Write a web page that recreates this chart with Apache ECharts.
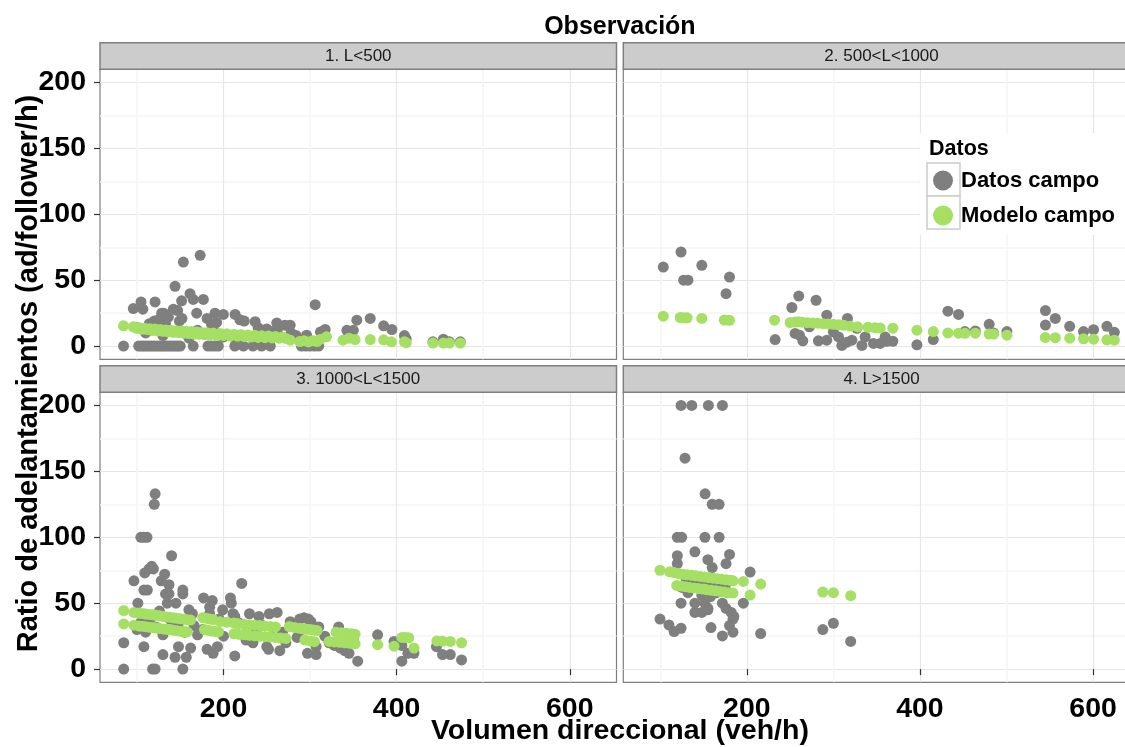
<!DOCTYPE html>
<html><head><meta charset="utf-8">
<script src="https://cdn.jsdelivr.net/npm/echarts@6/dist/echarts.min.js"></script>
<style>html,body{margin:0;padding:0;background:#fff}#c{width:1125px;height:747px}</style>
</head><body><div id="c"></div>
<script>
// ---------- data ----------
const facetLabels = ['1. L<500', '2. 500<L<1000', '3. 1000<L<1500', '4. L>1500'];
const seriesNames = ['Datos campo', 'Modelo campo'];
const legendTitle = 'Datos';
const mainTitle = 'Observación';
const xTitle = 'Volumen direccional (veh/h)';
const yTitle = 'Ratio de adelantamientos (ad/follower/h)';
const xMajorTicks = [200, 400, 600];
const xMinorTicks = [100, 300, 500];
const yMajorTicks = [0, 50, 100, 150, 200];
const yMinorTicks = [25, 75, 125, 175];
const xRange = [57.3, 654];
const yRange = [-10, 210];

const p1Datos = [[84.5,0],[102,0],[105,0],[108,0],[111,0],[114,0],[117,0],[120,0],[123,0],[126,0],[129,0],[132,0],[135,0],[138,0],[141,0],[144,0],[147,0],[150,0],[165,0],[182,0],[186,0],[190,0],[194,0],[213,0],[223,0],[234,0],[244,0],[254,0],[290,0],[295,0],[300,0],[305,0],[310,0],
[95.8,28.5],[104.7,33.5],[106.8,28],[114.3,17],[120.9,33.5],[128.6,25],[131,25],[136.3,22],[120,19],[125,20],[133,17],[142,28],[147,27],[144,45.4],[153.6,63.8],[173,68.9],[151.6,34.4],[161.3,39.8],[165,35.4],[176.7,35.4],[149,19],[152,21],[169,25],[181,21],[186,17],[190.2,25],[188,15],[192,18],[186,12],[199.8,24],[200,7],[210,7.5],[220,6.6],[213.4,24],[219,20],[224,19],[236.5,18.5],[250,13],[256,11],[262,12],[261.5,17.6],[271,15.9],[277,15.9],[278,10],[284,8],[296,8.3],[305.9,31.4],[312,10.8],[317.4,12.6],[342.5,12],[350,12],[354,19.7],[369.5,21],[385,15.4],[394.5,12.6],[409,8],[411,5.5],[441.9,3.3],[454,5.3],[461,3.3],[473.5,3.3],[100,14],[110,10],[130,8],[160,6],[170,12],[240,14]];
const p1Modelo = [[84.5,15.4],[95.8,14.6],[100,13.5],[103,14],[106,12.8],[109,13.6],[112,12.5],[115,13.2],[118,11.8],[121,12.9],[124,11.5],[127,12.6],[130,11.2],[133,12.3],[136,10.8],[139,12],[142,10.5],[145,11.7],[148,10.2],[151,11.5],[154,9.8],[157,11.2],[160,9.5],[163,11],[166,9.2],[169,10.7],[172,9],[175,10.4],[178,8.7],[181,10.2],[184,8.5],[188,9.9],[192,8.2],[196,9.6],[200,8],[204,9.3],[208,7.7],[212,9],[216,7.5],[220,8.8],[224,7.2],[228,8.5],[232,6.9],[236,8.2],[240,6.6],[244,7.9],[248,6.4],[252,7.6],[256,6.2],[260,7.3],[264,6],[268,7],[272,5.8],[277,4.5],[288,3.5],[293,4],[298,3.2],[303,4],[308,3.5],[312,5.3],[319,7.1],[338,4.5],[345,6],[352,5],[369.5,5],[385,4.8],[394,3.3],[409,3.3],[411,2.5],[442,2.3],[454,2.3],[461,2.3],[473.5,2.3]];

const p2Datos = [[103.5,60],[124,71.4],[127,50],[132,50],[148,61.3],[180,52.4],[176,39.8],[232.7,5],[252,29.3],[260,38],[280,34.8],[255.8,9.6],[260.8,8.3],[264.7,4],[272.3,14.6],[282.7,4],[292.4,4.5],[292.4,23.5],[300,10.8],[305.9,7],[309.8,0.5],[315.6,3],[321.4,4.5],[316.3,21],[327.1,13.5],[333,0.5],[336.7,7],[346.3,2],[354,2],[359.8,7],[361.7,3.7],[368.7,3.7],[396.5,1],[415.4,5],[432.3,26.5],[444.6,24],[452,11],[464,11.5],[480,16.5],[485,10],[500.5,11],[545,27],[556.4,21],[545,16],[573,15],[589,11],[600.6,12.5],[616,15],[624.6,10.5]];
const p2Modelo = [[103.5,22.7],[123,21.7],[127,21.6],[131,21.5],[148,21],[174,19.8],[180,19.6],[232,19.7],[250,17.9],[256,18.3],[260,18.4],[264,18.2],[270,17.8],[276,17.6],[282,17.4],[288,17],[294,16.8],[300,16.5],[306,16.2],[312,15.8],[319.4,15.1],[328,14.6],[340,14.3],[348,14],[354,13.8],[368.7,13.6],[396.5,12.1],[415.4,11],[432.3,10],[444.6,9.8],[452,9.7],[464,9.8],[480,9.2],[485,9.2],[500.5,8.3],[544.8,6.6],[556.4,6.4],[573,6],[589,5.6],[600.6,5.3],[616,4.8],[624.6,4.5]];

const p3Datos = [[84.7,0],[84.7,20],[96.5,67],[101,50],[104.5,100],[108,100],[111.6,100],[108,60],[112,60],[109,73],[114,76],[117,78],[119,76],[120,125],[121,133],[108,17],[118,0],[121,0],[128,67],[132,72],[137,64],[140,86],[133,57],[137,57],[135,50],[145,50],[130,11],[144,9],[153,0],[153,57],[153,60],[157,9],[162,16],[164,42],[148,17],[177,54],[187,52],[184,47],[184,42],[181,15],[188,12],[193,17],[199,45],[208,54],[209,50],[211,42],[213,10],[213,40],[221,65],[230,42],[226,22],[234,20],[241,40],[253,42],[262,43],[250,17],[252,15],[265,14],[277,36],[288,38],[293,39],[298,38],[301,36],[297,12],[307,11],[307,17],[317,25],[333,32],[328,18],[335,16],[340,14],[345,12],[355,6],[378,26],[397,21],[406,6],[406,18],[413,12],[420,12],[446,17],[453,11],[462,11],[475,7],
[100,30],[104,35],[110,28],[115,38],[122,32],[126,44],[130,26],[138,38],[142,30],[148,35],[155,28],[160,45],[166,33],[170,26],[176,30],[195,38],[200,25],[218,35],[224,26],[238,30],[245,33],[256,25],[268,28],[272,20],[285,24],[290,30],[310,32],[322,20],[345,20],[350,24]];
const p3Modelo = [[84.7,44.4],[96.5,43],[102,42.5],[106,42.2],[110,41.8],[114,41.5],[118,41.2],[122,40.8],[126,40.4],[130,40],[134,39.6],[138,39.3],[142,39],[146,38.6],[150,38.2],[154,37.9],[158,37.5],[162,37.2],[176,39],[180,38.5],[184,38],[188,37.6],[196,36],[204,35.6],[212,35],[216,34.6],[224,34],[230,33.6],[236,33.3],[242,33],[248,32.6],[254,32.3],[260,32],[276,32.3],[282,31.5],[288,31],[292,30.6],[296,30.3],[300,30],[304,29.6],[308,29.3],[330,28],[336,27.6],[342,27.2],[348,26.8],[352,26.5],[406,24],[410,24],[414,23.8],[446.5,21.4],[453,21.2],[462,21],[475,20],
[84.7,34.3],[96.5,33.3],[102,32.8],[106,32.5],[110,32.2],[114,31.8],[118,31.5],[122,31.2],[126,30.8],[130,30.5],[134,30.2],[138,29.8],[142,29.5],[146,29.2],[150,28.8],[154,28.5],[158,28.2],[178,30],[182,29.4],[186,29],[190,28.6],[194,28.2],[212,26.8],[218,26.4],[224,26],[230,25.6],[236,25.3],[242,25],[248,24.6],[254,24.3],[260,24],[266,23.6],[272,23.2],[294,22],[300,21.4],[305,20.8],[322,21],[328,20.6],[334,20.3],[340,20],[346,19.6],[352,19.2],[378,18.5],[397,17.4],[420,16]];

const p4Datos = [[124,200],[136.4,200],[155.6,200],[171.8,200],[128.6,160],[151.8,133],[160,125],[168,125],[119.7,100],[124.8,100],[151.6,100],[168,100],[140,89],[119.7,86],[119.7,80],[180,87],[155,83],[176,80],[160,77],[203.8,73.6],[130,68],[135,66],[140,62],[145,65],[150,60],[155,68],[160,64],[165,58],[170,66],[175,62],[178,58],[125,62],[132,58],[138,70],[148,56],[158,55],[124,50],[140,50],[151.6,50],[155,46],[171.8,50],[196,50],[140,43],[148,43],[155,45],[176,46],[182,43],[185,40],[184,38],[99.7,38],[110,33.5],[116,28.5],[124,31],[158.6,31.5],[171.8,25.2],[180,33],[184,28],[216,27],[287.8,30],[300,34.8],[320,21]];
const p4Modelo = [[99.7,75],[111,73.8],[116,73.3],[121,72.5],[126,72],[131,71.6],[136,71.2],[141,70.8],[146,70.3],[151,69.9],[156,69.5],[161,69],[166,68.6],[171,68.2],[176,67.8],[181,67.4],[184,67],[196,66.5],[216,64.5],
[119,63.5],[124,63],[129,62.5],[134,62],[139,61.6],[144,61.1],[149,60.7],[154,60.2],[159,59.8],[164,59.4],[169,58.9],[174,58.5],[179,58],[184,57.7],[203.8,56.2],[287.8,58.5],[300,58],[320,55.7]];

const panelDatos = [p1Datos, p2Datos, p3Datos, p4Datos];
const panelModelo = [p1Modelo, p2Modelo, p3Modelo, p4Modelo];

// ---------- layout / style ----------
const FONT = '"Liberation Sans", Arial, Helvetica, sans-serif';
const GRAY = '#7F7F7F';
const GREEN = '#A5E065';
const panels = [
  {left: 100,   top: 69.3,  showX: false, showY: true},
  {left: 623.3, top: 69.3,  showX: false, showY: false},
  {left: 100,   top: 392.3, showX: true,  showY: true},
  {left: 623.3, top: 392.3, showX: true,  showY: false}
];
const PW = 516.5, PH = 290, STRIP_H = 26.6;

const grid = [], xAxis = [], yAxis = [], series = [], graphic = [];
panels.forEach((p, i) => {
  grid.push({left: p.left, top: p.top, width: PW, height: PH, show: true,
    backgroundColor: '#fff', borderColor: GRAY, borderWidth: 1.2, containLabel: false,
    outerBoundsMode: 'none'});
  // major x
  xAxis.push({type: 'value', gridIndex: i, min: xRange[0], max: xRange[1], position: 'bottom',
    axisLine: {show: false},
    axisTick: {show: p.showX, customValues: xMajorTicks, length: 6, lineStyle: {color: '#333', width: 1.2}},
    axisLabel: {show: p.showX, customValues: xMajorTicks, margin: 12, color: '#000',
      fontSize: 28.5, fontWeight: 'bold', fontFamily: FONT},
    splitLine: {show: true, lineStyle: {color: '#E6E6E6', width: 1.2}}});
  // minor x
  xAxis.push({type: 'value', gridIndex: i, min: xRange[0], max: xRange[1], position: 'top',
    axisLine: {show: false}, axisLabel: {show: false},
    axisTick: {show: false, customValues: xMinorTicks},
    splitLine: {show: true, lineStyle: {color: '#F4F4F4', width: 1.5}}});
  // major y
  yAxis.push({type: 'value', gridIndex: i, min: yRange[0], max: yRange[1], position: 'left',
    axisLine: {show: false},
    axisTick: {show: p.showY, customValues: yMajorTicks, length: 6, lineStyle: {color: '#333', width: 1.2}},
    axisLabel: {show: p.showY, customValues: yMajorTicks, margin: 14, color: '#000',
      fontSize: 28.5, fontWeight: 'bold', fontFamily: FONT},
    splitLine: {show: true, lineStyle: {color: '#E6E6E6', width: 1.2}}});
  // minor y
  yAxis.push({type: 'value', gridIndex: i, min: yRange[0], max: yRange[1], position: 'right',
    axisLine: {show: false}, axisLabel: {show: false},
    axisTick: {show: false, customValues: yMinorTicks},
    splitLine: {show: true, lineStyle: {color: '#F4F4F4', width: 1.5}}});

  series.push({type: 'scatter', name: seriesNames[0], xAxisIndex: 2 * i, yAxisIndex: 2 * i,
    data: panelDatos[i], symbol: 'circle', symbolSize: 11, itemStyle: {color: GRAY, opacity: 1},
    emphasis: {disabled: true}, z: 2});
  series.push({type: 'scatter', name: seriesNames[1], xAxisIndex: 2 * i, yAxisIndex: 2 * i,
    data: panelModelo[i], symbol: 'circle', symbolSize: 11, itemStyle: {color: GREEN, opacity: 1},
    emphasis: {disabled: true}, z: 3});

  // strip
  graphic.push({type: 'rect', z: 5, shape: {x: p.left, y: p.top - STRIP_H, width: PW, height: STRIP_H},
    style: {fill: '#CCCCCC', stroke: GRAY, lineWidth: 1.5}});
  graphic.push({type: 'text', z: 6, x: p.left + PW / 2, y: p.top - STRIP_H / 2 + 0.5,
    style: {text: facetLabels[i], font: '17px ' + FONT, fill: '#1A1A1A',
      textAlign: 'center', textVerticalAlign: 'middle', align: 'center', verticalAlign: 'middle'}});
});

// titles
graphic.push({type: 'text', z: 6, x: 619.9, y: 27,
  style: {text: mainTitle, font: 'bold 25px ' + FONT, fill: '#000',
    textAlign: 'center', textVerticalAlign: 'middle', align: 'center', verticalAlign: 'middle'}});
graphic.push({type: 'text', z: 6, x: 619.9, y: 731,
  style: {text: xTitle, font: 'bold 28.5px ' + FONT, fill: '#000',
    textAlign: 'center', textVerticalAlign: 'middle', align: 'center', verticalAlign: 'middle'}});
graphic.push({type: 'text', z: 6, x: 29, y: 373.5, rotation: Math.PI / 2,
  style: {text: yTitle, font: 'bold 29px ' + FONT, fill: '#000',
    textAlign: 'center', textVerticalAlign: 'middle', align: 'center', verticalAlign: 'middle'}});

// legend box
graphic.push({type: 'rect', z: 7, shape: {x: 920, y: 133, width: 210, height: 102},
  style: {fill: '#fff', stroke: null}});
graphic.push({type: 'rect', z: 8, shape: {x: 927, y: 163, width: 33, height: 33},
  style: {fill: '#fff', stroke: '#CCCCCC', lineWidth: 1.5}});
graphic.push({type: 'rect', z: 8, shape: {x: 927, y: 196, width: 33, height: 33},
  style: {fill: '#fff', stroke: '#CCCCCC', lineWidth: 1.5}});
graphic.push({type: 'text', z: 8, x: 929, y: 149,
  style: {text: legendTitle, font: 'bold 21.5px ' + FONT, fill: '#000',
    textAlign: 'left', textVerticalAlign: 'middle', align: 'left', verticalAlign: 'middle'}});

const chart = echarts.init(document.getElementById('c'), null, {renderer: 'canvas'});
chart.setOption({
  animation: false,
  backgroundColor: '#fff',
  grid, xAxis, yAxis, series, graphic,
  legend: {
    data: seriesNames.map(n => ({name: n, icon: 'circle'})),
    orient: 'vertical', left: 933, top: 169.5, padding: 0, itemWidth: 20, itemHeight: 20, itemGap: 13,
    selectedMode: false, z: 20,
    textStyle: {fontSize: 22, fontWeight: 'bold', color: '#000', fontFamily: FONT, padding: [0, 0, 0, 3]}
  }
});
</script></body></html>
